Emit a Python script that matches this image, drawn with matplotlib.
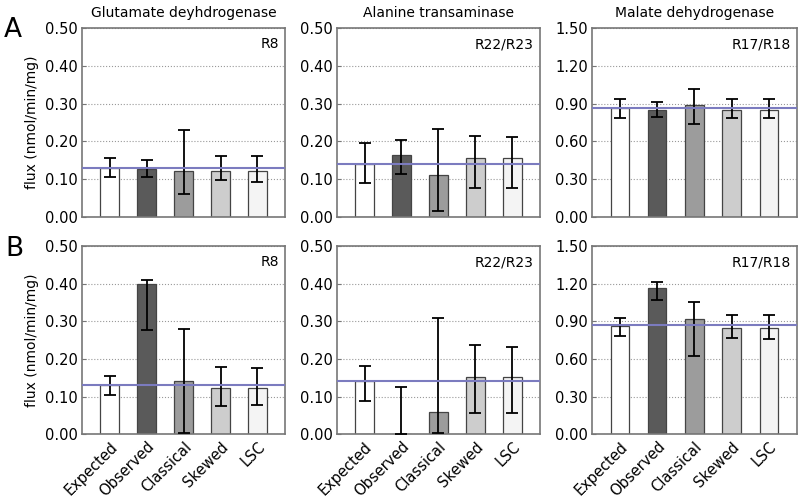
import numpy as np
import matplotlib
matplotlib.use('Agg')
import matplotlib.pyplot as plt

methods = ['Expected', 'Observed', 'Classical', 'Skewed', 'LSC']
bar_colors = ['#ffffff', '#5a5a5a', '#9c9c9c', '#cdcdcd', '#f4f4f4']

titles = ['Glutamate deyhdrogenase', 'Alanine transaminase', 'Malate dehydrogenase']
reactions = ['R8', 'R22/R23', 'R17/R18']

# row A
a_vals = [[0.131, 0.127, 0.121, 0.123, 0.123],
          [0.140, 0.163, 0.112, 0.155, 0.155],
          [0.869, 0.847, 0.887, 0.847, 0.847]]
a_lo = [[0.105, 0.107, 0.060, 0.099, 0.093],
        [0.090, 0.114, 0.016, 0.078, 0.078],
        [0.786, 0.794, 0.735, 0.786, 0.786]]
a_hi = [[0.155, 0.151, 0.229, 0.161, 0.161],
        [0.195, 0.204, 0.234, 0.213, 0.211],
        [0.933, 0.914, 1.012, 0.938, 0.933]]

# row B
b_vals = [[0.131, 0.398, 0.141, 0.123, 0.123],
          [0.141, 0.001, 0.058, 0.153, 0.153],
          [0.865, 1.169, 0.918, 0.849, 0.849]]
b_lo = [[0.105, 0.276, 0.004, 0.075, 0.077],
        [0.089, 0.000, 0.002, 0.055, 0.055],
        [0.785, 1.073, 0.619, 0.763, 0.758]]
b_hi = [[0.154, 0.409, 0.279, 0.178, 0.177],
        [0.181, 0.125, 0.309, 0.236, 0.231],
        [0.929, 1.212, 1.052, 0.953, 0.953]]

expected_line = [0.130, 0.140, 0.867]
ymax = [0.5, 0.5, 1.5]
ystep = [0.1, 0.1, 0.3]

fig = plt.figure(figsize=(8, 4.99), dpi=100)

lefts = [0.1025, 0.421, 0.74]
widths = [0.254, 0.254, 0.256]
bottoms = [0.565, 0.130]
heights = [0.379, 0.377]

rows = [(a_vals, a_lo, a_hi), (b_vals, b_lo, b_hi)]
x = np.arange(len(methods))

for r, (vals, lo, hi) in enumerate(rows):
    for c in range(3):
        ax = fig.add_axes([lefts[c], bottoms[r], widths[c], heights[r]])
        v = np.array(vals[c])
        err = [v - np.array(lo[c]), np.array(hi[c]) - v]
        ax.bar(x, v, width=0.5, color=bar_colors, edgecolor='#444444',
               linewidth=0.9, zorder=2)
        ax.errorbar(x, v, yerr=err, fmt='none', ecolor='black',
                    elinewidth=1.3, capsize=4.5, capthick=1.3, zorder=3)
        ax.axhline(expected_line[c], color='#7b7bbf', lw=1.5, zorder=4)
        ax.set_xlim(-0.75, 4.75)
        ax.set_ylim(0, ymax[c])
        ticks = np.arange(0, ymax[c] + 1e-9, ystep[c])
        ax.set_yticks(ticks)
        ax.set_yticklabels(['%.2f' % t for t in ticks], fontsize=10.5)
        ax.yaxis.grid(True, linestyle=':', color='#999999', lw=0.8, zorder=0)
        ax.set_axisbelow(True)
        ax.tick_params(axis='y', direction='in', length=3, color='#777777', pad=3)
        ax.set_xticks(x)
        ax.tick_params(axis='x', length=0)
        if r == 1:
            ax.set_xticklabels(methods, rotation=45, ha='right',
                               rotation_mode='anchor', fontsize=10.5)
        else:
            ax.set_xticklabels([])
            ax.set_title(titles[c], fontsize=10, pad=8)
        for s in ax.spines.values():
            s.set_color('#777777')
            s.set_linewidth(1.2)
        ax.text(0.97, 0.95, reactions[c], transform=ax.transAxes,
                ha='right', va='top', fontsize=10)
        if c == 0:
            ax.set_ylabel('flux (nmol/min/mg)', fontsize=10, labelpad=4)

fig.text(0.005, 0.94, 'A', fontsize=19, va='center')
fig.text(0.007, 0.50, 'B', fontsize=19, va='center')

fig.savefig('out.png', dpi=100)
